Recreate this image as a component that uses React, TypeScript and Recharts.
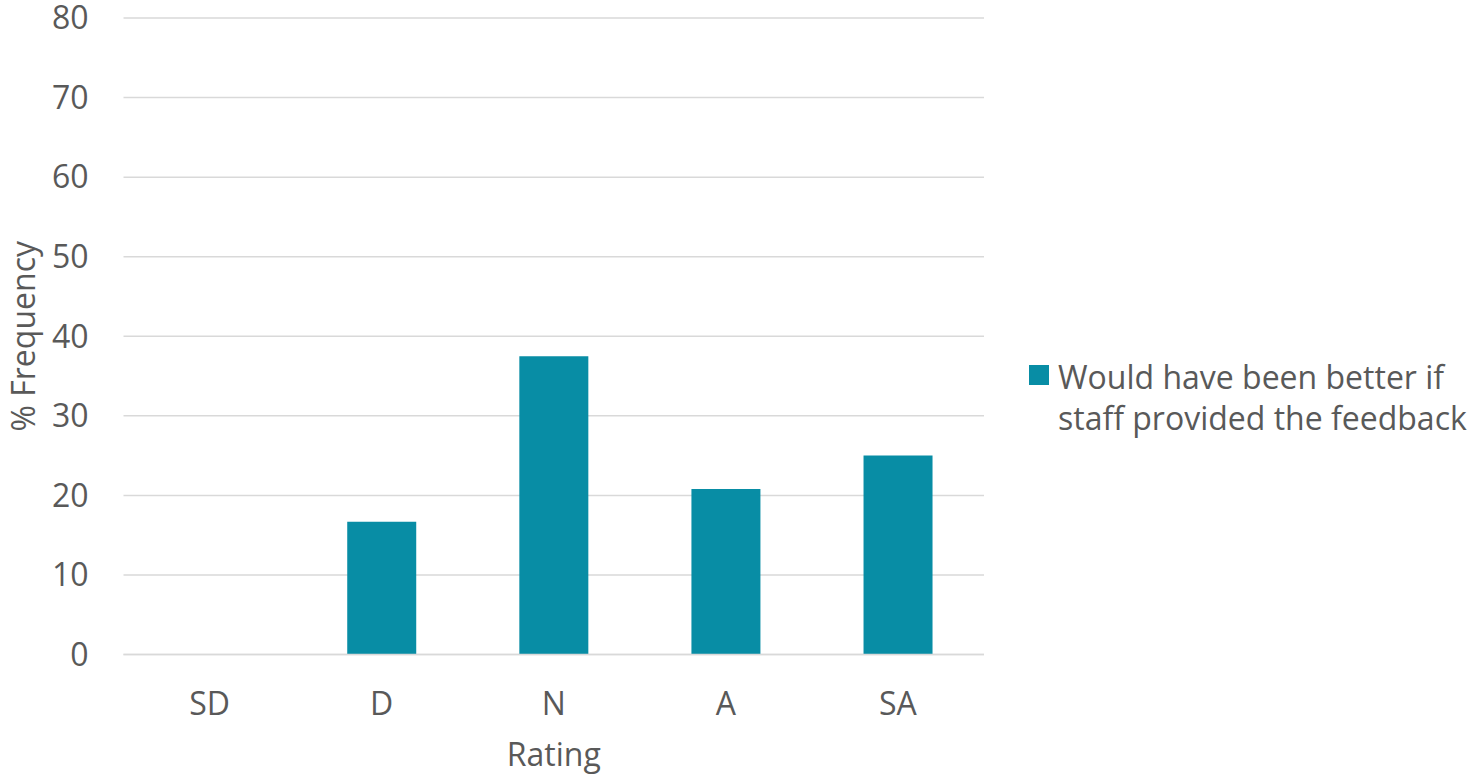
import React from 'react';
import { BarChart, Bar, XAxis, YAxis, CartesianGrid, Legend } from 'recharts';

const categories = ['SD', 'D', 'N', 'A', 'SA'];
const values = [0, 16.7, 37.5, 20.8, 25.0];
const yTicks = [0, 10, 20, 30, 40, 50, 60, 70, 80];
const seriesName = 'Would have been better if staff provided the feedback';
const legendLines = ['Would have been better if', 'staff provided the feedback'];

const data = categories.map((c, i) => ({ rating: c, value: values[i] }));

const FONT = '"Open Sans", sans-serif';
const FS = 32;
const TEXT = '#595959';
const BAR = '#088da5';

const renderLegend = () => (
  <div style={{ display: 'flex', alignItems: 'flex-start', fontFamily: FONT, fontSize: FS, color: TEXT, lineHeight: '41px' }}>
    <div style={{ width: 20, height: 20, background: BAR, marginTop: 9, marginRight: 9, flexShrink: 0 }} />
    <div style={{ whiteSpace: 'nowrap' }}>
      {legendLines.map((l) => (
        <div key={l}>{l}</div>
      ))}
    </div>
  </div>
);

const YLabel = (props: any) => {
  const vb = props.viewBox || {};
  const cx = 22;
  const cy = vb.y + vb.height / 2;
  return (
    <text
      x={cx}
      y={cy}
      transform={`rotate(-90, ${cx}, ${cy})`}
      textAnchor="middle"
      dominantBaseline="central"
      fill={TEXT}
      fontSize={FS}
      fontFamily={FONT}
    >
      % Frequency
    </text>
  );
};

export default function App() {
  return (
    <div style={{ position: 'absolute', left: 0, top: 0, width: 1480, height: 775, background: '#fff' }}>
      <BarChart
        width={1480}
        height={775}
        data={data}
        margin={{ top: 18, right: 496, bottom: 0, left: 0 }}
        barCategoryGap="30%"
      >
        <CartesianGrid vertical={false} stroke="#d9d9d9" strokeWidth={1.5} />
        <XAxis
          dataKey="rating"
          axisLine={{ stroke: '#d9d9d9', strokeWidth: 1.5 }}
          tickLine={false}
          tickSize={0}
          tickMargin={38}
          tick={{ fill: TEXT, fontSize: FS, fontFamily: FONT }}
          height={120.5}
          label={{ value: 'Rating', position: 'insideBottom', offset: 9, fill: TEXT, fontSize: FS, fontFamily: FONT }}
        />
        <YAxis
          domain={[0, 80]}
          ticks={yTicks}
          interval={0}
          axisLine={false}
          tickLine={false}
          tickSize={0}
          tickMargin={35}
          width={123.5}
          tick={{ fill: TEXT, fontSize: FS, fontFamily: FONT }}
          label={<YLabel />}
        />
        <Legend
          layout="horizontal"
          align="center"
          verticalAlign="middle"
          content={renderLegend}
          wrapperStyle={{ left: 1029, top: 356, width: 451 }}
        />
        <Bar dataKey="value" name={seriesName} fill={BAR} isAnimationActive={false} />
      </BarChart>
    </div>
  );
}
